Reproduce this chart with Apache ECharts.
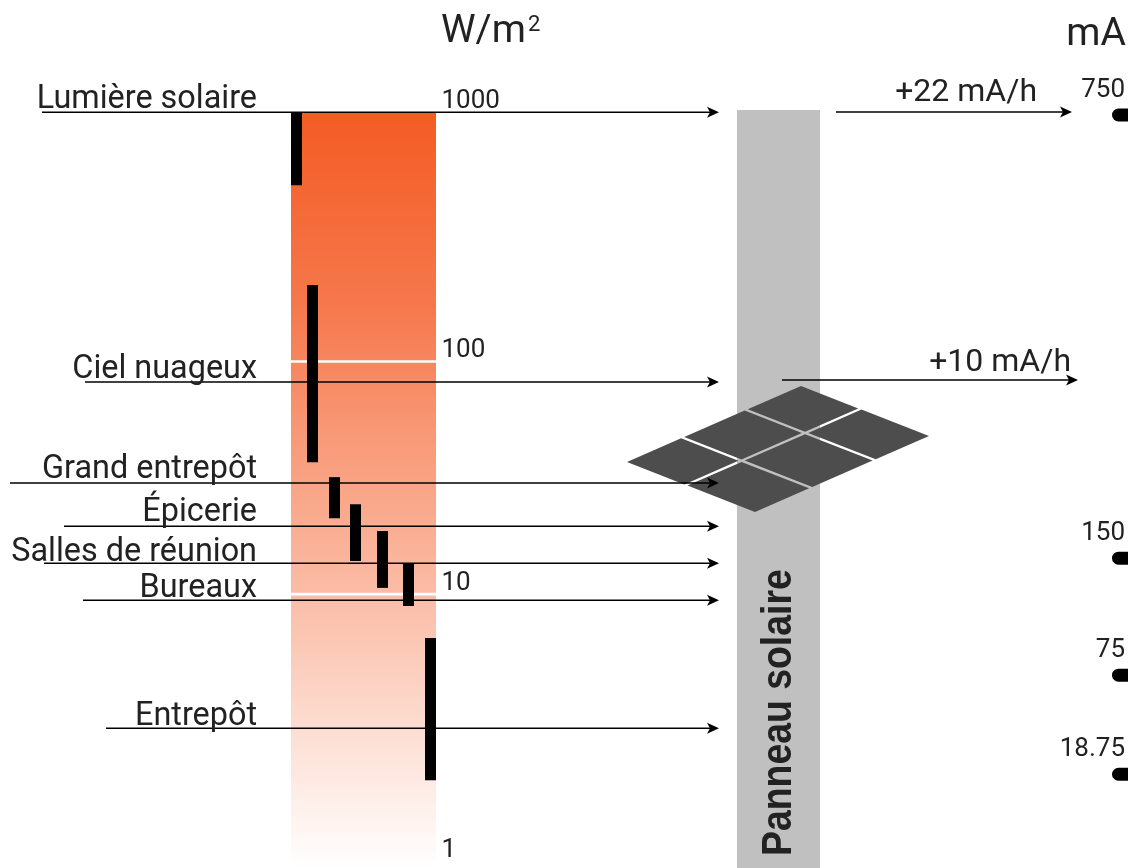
<!DOCTYPE html>
<html><head><meta charset="utf-8">
<style>html,body{margin:0;padding:0;background:#fff}#c{width:1128px;height:868px}</style>
<script src="https://cdn.jsdelivr.net/npm/echarts@6/dist/echarts.min.js"></script>
</head><body><div id="c"></div>
<script>
// Light environments, W/m2 (read on the log scale of the gradient column)
const places = ['Lumière solaire','Ciel nuageux','Grand entrepôt','Épicerie','Salles de réunion','Bureaux','Entrepôt'];
const rangeTop = [1000,197,32.5,25.2,19.6,14.5,7.18];
const rangeBottom = [503,37.4,22.1,14.8,11.5,9.7,1.89];
const arrowLevel = [998,79.4,30.8,20.5,14.5,10.25,3.08];
const arrowStart = [42,85,10,64,44,83,106];
const rangeColumn = [291,307,329,350,377,403,425];
const labelLift = [12,12,13,13,10,11,11];
// W/m2 scale
const wattTicks = ['1000','100','10','1'];
const wattTickLevel = [1000,96.2,10.84,0.88];
const wattRules = [96.2,10.84];
// mA scale
const maTicks = ['750','150','75','18.75'];
const maTickLevel = [972,15.2,5.07,2.0];
// Charge rates
const rates = ['+22 mA/h','+10 mA/h'];
const rateLevel = [1000,80.9];
const rateStart = [836,782];
const rateEnd = [1072,1078];
const rateLift = [19,17];

const FONT='Roboto', INK='#222';
// solar panel decoration
const T=[801,386],R=[929,436],L=[627,462];
const U=[R[0]-T[0],R[1]-T[1]],V=[L[0]-T[0],L[1]-T[1]];
const uCuts=[0,0.46,1],vCuts=[0,0.315,0.68,1];
const gapU=1.7/Math.hypot(U[0],U[1]),gapV=1.7/Math.hypot(V[0],V[1]);
const cells=[];
for(let i=0;i<2;i++)for(let j=0;j<3;j++){
  const u0=uCuts[i]+(i?gapU:0),u1=uCuts[i+1]-(i<1?gapU:0),v0=vCuts[j]+(j?gapV:0),v1=vCuts[j+1]-(j<2?gapV:0);
  const P=(u,v)=>[T[0]+U[0]*u+V[0]*v,T[1]+U[1]*u+V[1]*v];
  cells.push({type:'polygon',z:1,shape:{points:[P(u0,v0),P(u1,v0),P(u1,v1),P(u0,v1)]},style:{fill:'#4d4d4d'}});
}
function yOf(api,v){return api.coord([0,v])[1];}
function xOf(api,x){return api.coord([x,1000])[0];}
function arrow(x0,x1,y){
  return {type:'group',children:[
    {type:'line',shape:{x1:x0,y1:y,x2:x1-4,y2:y},style:{stroke:'#000',lineWidth:1.5}},
    {type:'polygon',shape:{points:[[x1,y],[x1-12,y-5.5],[x1-9,y],[x1-12,y+5.5]]},style:{fill:'#000'}}
  ]};
}
function custom(name,data,renderItem,z){
  return {type:'custom',name,data,renderItem,clip:false,silent:true,z:z,encode:{x:0,y:1}};
}
const opt={
  animation:false,backgroundColor:'#fff',
  grid:{left:0,right:0,top:112,bottom:0,containLabel:false},
  tooltip:{show:false},
  xAxis:{type:'value',min:0,max:1128,show:false},
  yAxis:{type:'log',logBase:10,min:0.83,max:1000,show:false},
  graphic:[
    {type:'rect',z:0,shape:{x:737,y:110,width:83,height:758},style:{fill:'#c0c0c0'}},
    ...cells,
    {type:'text',z:1,rotation:Math.PI/2,scaleY:1.135,x:779.5,y:856,style:{text:'Panneau solaire',font:'bold 37.4px "Liberation Sans"',fill:'#222',textAlign:'left',textVerticalAlign:'middle'}},
    {type:'text',z:1,x:441,y:32,style:{text:'W/m',font:'39px '+FONT,fill:INK,textAlign:'left',textVerticalAlign:'middle'}},
    {type:'text',z:1,x:528,y:25,style:{text:'2',font:'22px '+FONT,fill:INK,textAlign:'left',textVerticalAlign:'middle'}},
    {type:'text',z:1,x:1126,y:35,style:{text:'mA',font:'39px '+FONT,fill:INK,textAlign:'right',textVerticalAlign:'middle'}}
  ],
  series:[
    custom('irradiance',[[291,1000]],function(p,api){
      const y0=yOf(api,1000),y1=yOf(api,0.83);
      return {type:'rect',shape:{x:xOf(api,291),y:y0,width:145,height:y1-y0},
        style:{fill:new echarts.graphic.LinearGradient(0,0,0,1,[{offset:0,color:'#f45c24'},{offset:0.25,color:'#f5774b'},{offset:0.434,color:'#f89a78'},{offset:0.67,color:'#fbc2ae'},{offset:1,color:'#ffffff'}])}};
    },2),
    custom('rules',wattRules.map(v=>[291,v]),function(p,api){
      const y=yOf(api,api.value(1));
      return {type:'line',shape:{x1:xOf(api,291),y1:y,x2:xOf(api,436),y2:y},style:{stroke:'#fff',lineWidth:2.6}};
    },3),
    custom('ranges',places.map((n,i)=>[rangeColumn[i],rangeTop[i],rangeBottom[i]]),function(p,api){
      const a=yOf(api,api.value(1)),b=yOf(api,api.value(2));
      return {type:'rect',shape:{x:xOf(api,api.value(0)),y:a,width:11,height:b-a},style:{fill:'#000'}};
    },4),
    custom('arrows',places.map((n,i)=>[arrowStart[i],arrowLevel[i]]),function(p,api){
      return arrow(xOf(api,api.value(0)),719,yOf(api,api.value(1)));
    },5),
    custom('placeLabels',places.map((n,i)=>[257,arrowLevel[i]]),function(p,api){
      const y=yOf(api,api.value(1))-labelLift[p.dataIndex];
      return {type:'text',x:xOf(api,257),y:y,style:{text:places[p.dataIndex],font:'32.4px '+FONT,fill:INK,textAlign:'right',textVerticalAlign:'middle'}};
    },6),
    custom('wattTicks',wattTicks.map((n,i)=>[442,wattTickLevel[i]]),function(p,api){
      return {type:'text',x:xOf(api,441.5),y:yOf(api,api.value(1))-11,style:{text:wattTicks[p.dataIndex],font:'26px '+FONT,fill:INK,textAlign:'left',textVerticalAlign:'middle'}};
    },6),
    custom('rateArrows',rates.map((n,i)=>[rateStart[i],rateLevel[i]]),function(p,api){
      return arrow(xOf(api,api.value(0)),rateEnd[p.dataIndex],yOf(api,api.value(1)));
    },5),
    custom('rateLabels',rates.map((n,i)=>[rateEnd[i],rateLevel[i]]),function(p,api){
      return {type:'text',x:xOf(api,[1037,1071][p.dataIndex]),y:yOf(api,api.value(1))-rateLift[p.dataIndex],style:{text:rates[p.dataIndex],font:'32px '+FONT,fill:INK,textAlign:'right',textVerticalAlign:'middle'}};
    },6),
    custom('maTicks',maTicks.map((n,i)=>[1112,maTickLevel[i]]),function(p,api){
      const y=yOf(api,api.value(1));
      return {type:'group',children:[
        {type:'rect',shape:{x:xOf(api,1112),y:y-6.5,width:30,height:13,r:6.5},style:{fill:'#000'}},
        {type:'text',x:1125,y:y-25,style:{text:maTicks[p.dataIndex],font:'26px '+FONT,fill:INK,textAlign:'right',textVerticalAlign:'middle'}}
      ]};
    },6)
  ]
};
const chart=echarts.init(document.getElementById('c'),null,{renderer:'canvas'});
chart.setOption(opt);
</script></body></html>
